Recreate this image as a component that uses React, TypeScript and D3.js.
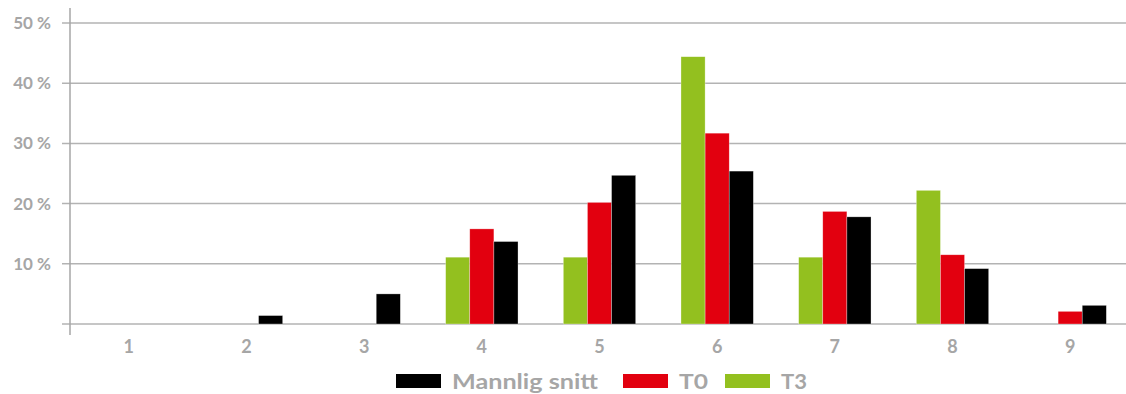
import React from "react";
import * as d3 from "d3";

// Score categories on the x axis
const categories = ["1", "2", "3", "4", "5", "6", "7", "8", "9"];

// Share of respondents per score (percent)
const t3Values = [0, 0, 0, 11.1, 11.1, 44.4, 11.1, 22.2, 0];
const t0Values = [0, 0, 0, 15.8, 20.2, 31.7, 18.7, 11.5, 2.1];
const mannligValues = [0, 1.4, 5.0, 13.7, 24.7, 25.4, 17.8, 9.2, 3.1];

const yTicks = [0, 10, 20, 30, 40, 50];

const seriesList = [
  { key: "T3", values: t3Values, color: "#93C01F" },
  { key: "T0", values: t0Values, color: "#E2000F" },
  { key: "Mannlig snitt", values: mannligValues, color: "#000000" },
];

const legendItems = [
  { label: "Mannlig snitt", color: "#000000", textWidth: 146, after: 25 },
  { label: "T0", color: "#E2000F", textWidth: 29, after: 17 },
  { label: "T3", color: "#93C01F", textWidth: 26, after: 0 },
];

const W = 1126;
const H = 394;
const FONT = "Lato, 'Open Sans', sans-serif";
const GRAY = "#A6A6A6";

export default function App() {
  const plotLeft = 70;
  const plotRight = 1129;
  const y = d3.scaleLinear().domain([0, 50]).range([324, 23]);
  const x = d3
    .scaleBand<string>()
    .domain(categories)
    .range([plotLeft, plotRight])
    .paddingInner(0.385)
    .paddingOuter(0.1925);
  const xInner = d3
    .scaleBand<string>()
    .domain(seriesList.map((s) => s.key))
    .range([0, x.bandwidth()]);

  // legend layout: swatch, gap, label, spacing to next entry
  const swatchW = 45;
  const legendRows: { item: (typeof legendItems)[number]; sx: number }[] = [];
  let cx = 396;
  for (const item of legendItems) {
    legendRows.push({ item, sx: cx });
    cx += swatchW + 11 + item.textWidth + item.after;
  }

  return (
    <svg
      width={W}
      height={H}
      style={{ position: "absolute", left: 0, top: 0, background: "#fff" }}
    >
      {/* gridlines with tick stubs */}
      {yTicks.map((t) => (
        <line
          key={t}
          x1={62}
          x2={W}
          y1={y(t)}
          y2={y(t)}
          stroke="#B3B3B3"
          strokeWidth={1.5}
        />
      ))}
      {/* y axis line */}
      <line x1={plotLeft} x2={plotLeft} y1={8} y2={335} stroke="#A6A6A6" strokeWidth={1.5} />

      {/* y labels */}
      {yTicks
        .filter((t) => t > 0)
        .map((t) => (
          <text
            key={t}
            x={51}
            y={y(t) + 6}
            textAnchor="end"
            fontFamily={FONT}
            fontWeight={700}
            fontSize={17}
            fill={GRAY}
          >
            {`${t} %`}
          </text>
        ))}

      {/* bars */}
      {seriesList.map((s) =>
        s.values.map((v, i) =>
          v > 0 ? (
            <rect
              key={`${s.key}-${i}`}
              x={(x(categories[i]) as number) + (xInner(s.key) as number)}
              y={y(v)}
              width={xInner.bandwidth()}
              height={y(0) - y(v)}
              fill={s.color}
              stroke="#ffffff"
              strokeOpacity={0.5}
              strokeWidth={0.6}
            />
          ) : null
        )
      )}

      {/* x labels */}
      {categories.map((c) => (
        <text
          key={c}
          x={(x(c) as number) + x.bandwidth() / 2}
          y={353}
          textAnchor="middle"
          fontFamily={FONT}
          fontWeight={700}
          fontSize={18}
          fill={GRAY}
        >
          {c}
        </text>
      ))}

      {/* legend */}
      {legendRows.map(({ item, sx }) => (
        <g key={item.label}>
          <rect x={sx} y={374} width={swatchW} height={14} fill={item.color} />
          <text
            x={sx + swatchW + 11}
            y={389}
            fontFamily={FONT}
            fontWeight={700}
            fontSize={21}
            fill={GRAY}
            textLength={item.textWidth}
            lengthAdjust="spacingAndGlyphs"
          >
            {item.label}
          </text>
        </g>
      ))}
    </svg>
  );
}
